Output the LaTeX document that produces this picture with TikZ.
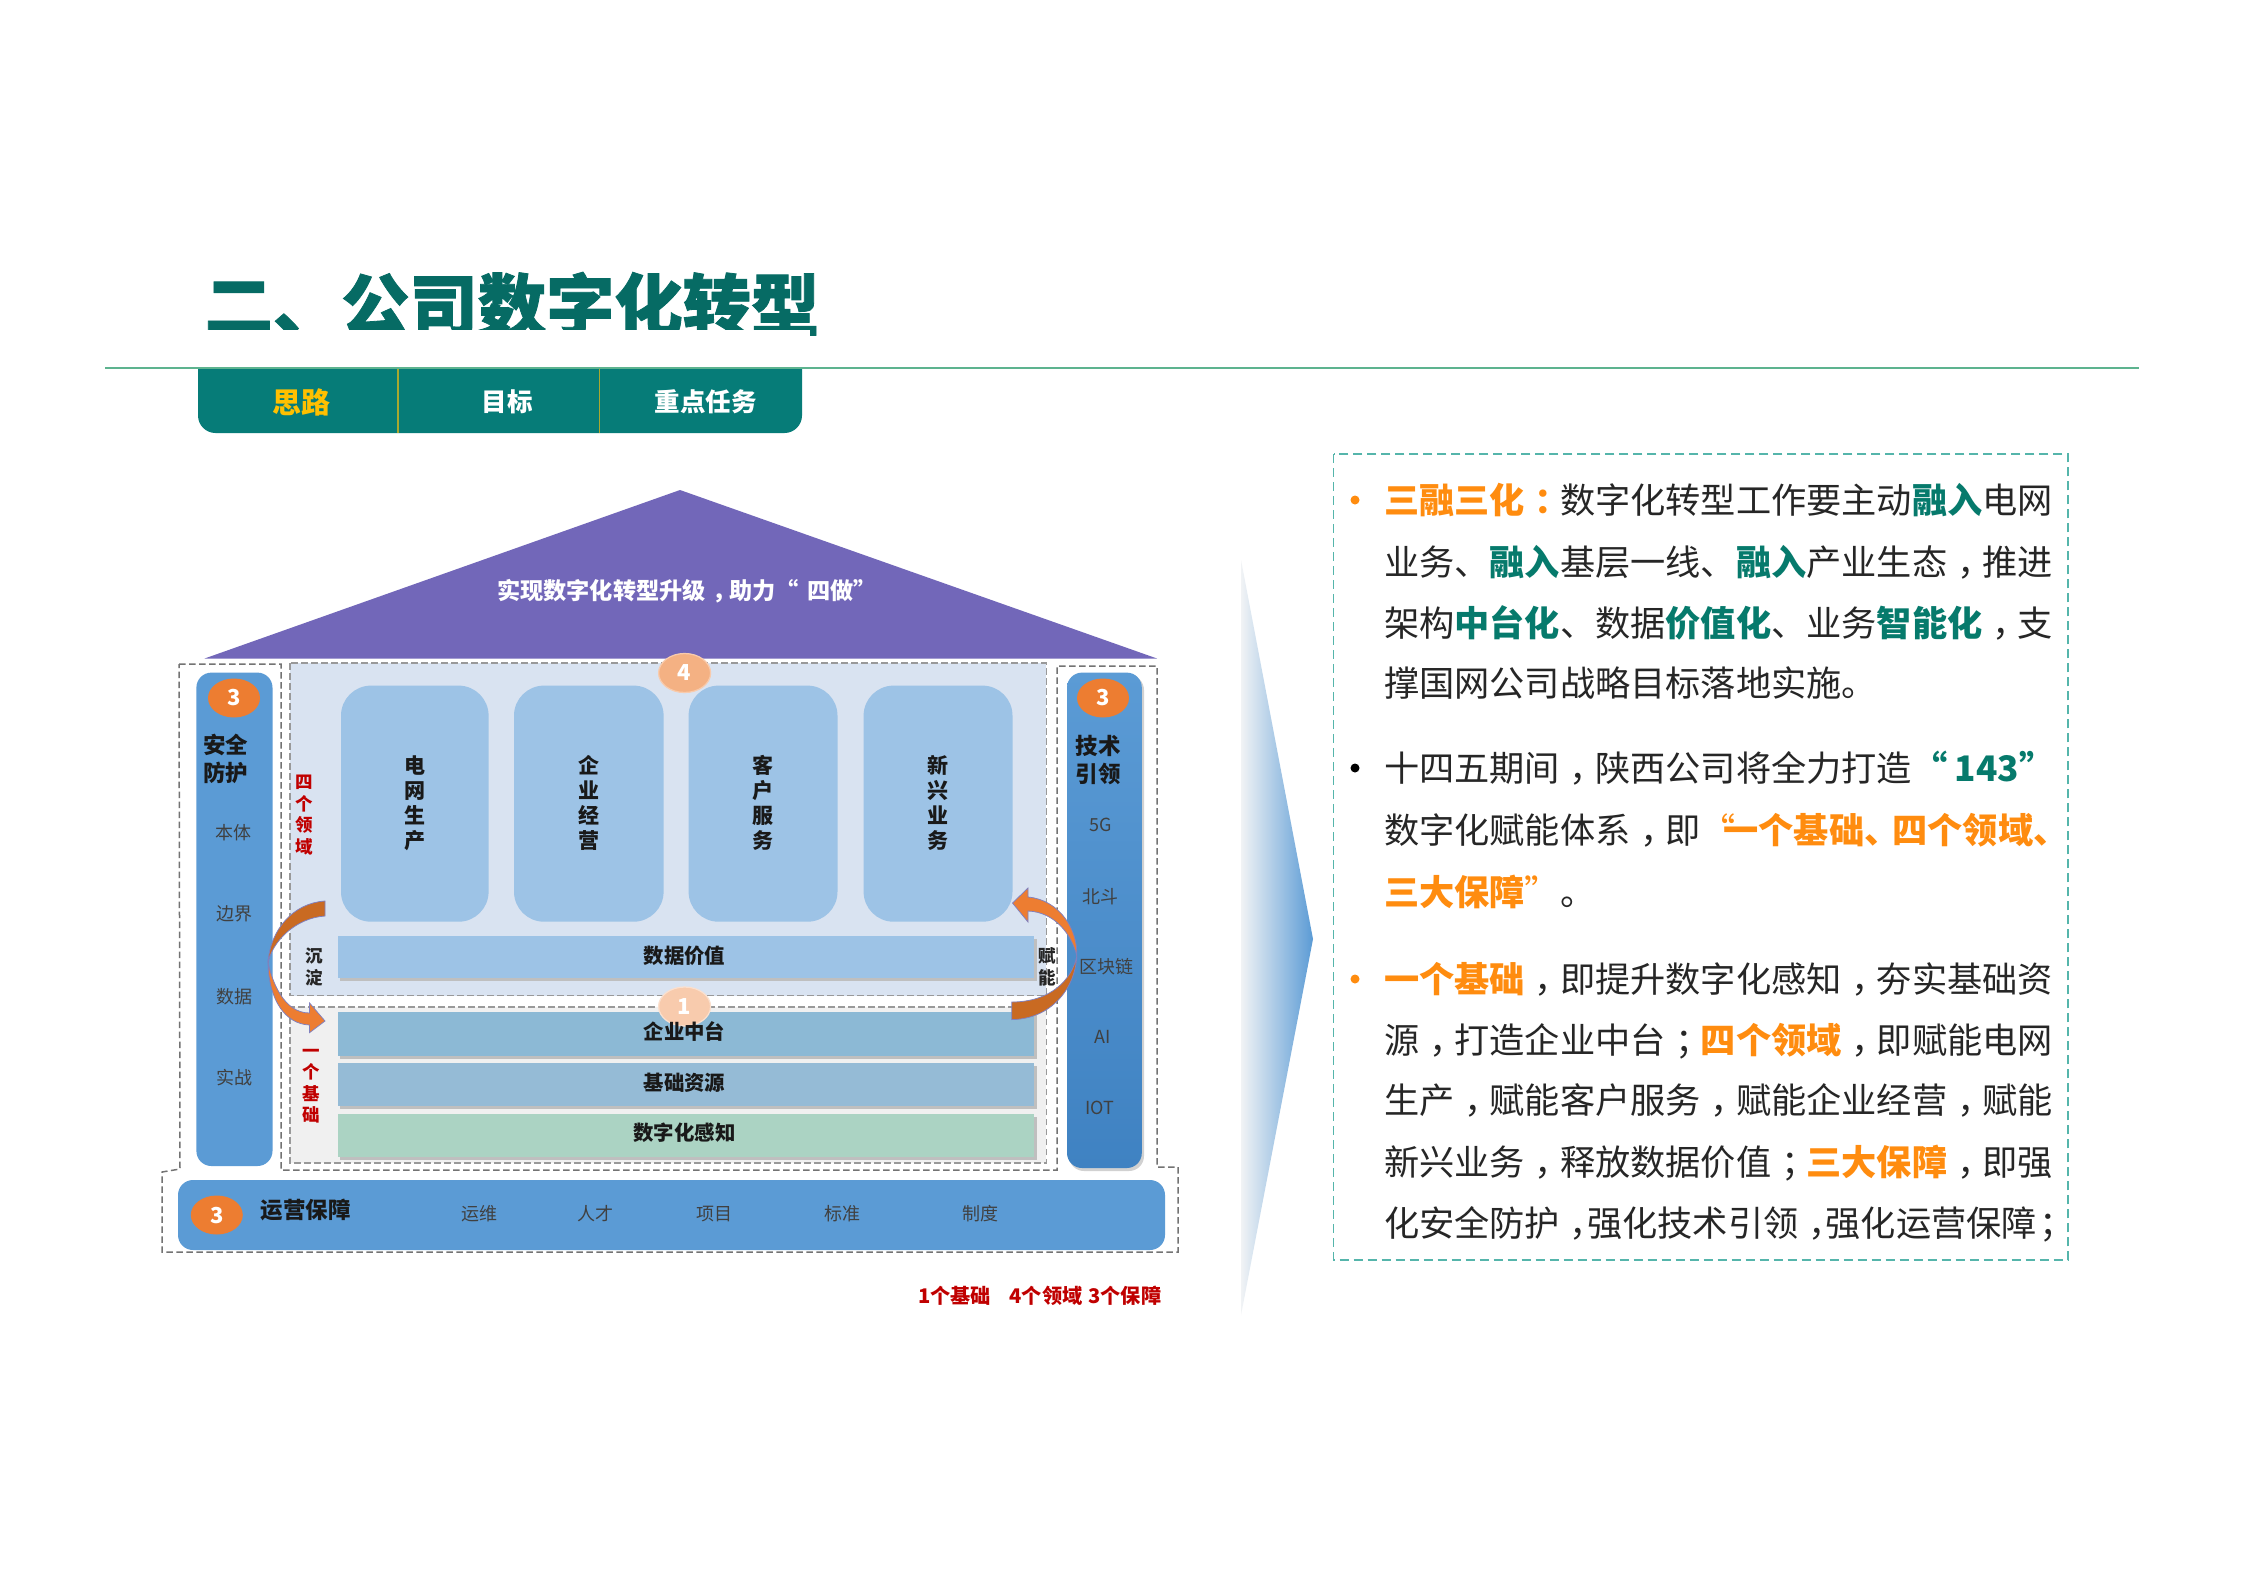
\documentclass[tikz,border=0pt]{standalone}
\usepackage{fontspec}
\setmainfont{Noto Sans CJK SC}
\newfontfamily\heavyfont[BoldFeatures={FakeBold=1.2}]{Noto Sans CJK SC}
\usetikzlibrary{shapes.geometric,calc}
\newcommand\fsl[2]{\fontsize{\the\dimexpr#1pt*2/5\relax}{\the\dimexpr#2pt*2/5\relax}\selectfont}
\newcommand\FC{\hspace{.28em}\char"FF0C\relax\hspace{-.28em}}
\newcommand\FS{\hspace{.28em}\char"FF1B\relax\hspace{-.28em}}
\newcommand\FN{\hspace{.28em}\char"FF1A\relax\hspace{-.28em}}
\definecolor{titleteal}{HTML}{066B64}
\definecolor{tabteal}{HTML}{067C78}
\definecolor{rulegreen}{HTML}{5DB38F}
\definecolor{tabgold}{HTML}{FFC000}
\definecolor{divgold}{HTML}{A8A830}
\definecolor{roofpurple}{HTML}{7267B9}
\definecolor{pillarblue}{HTML}{5B9BD5}
\definecolor{pillardark}{HTML}{3F82C2}
\definecolor{paleblue}{HTML}{D9E3F1}
\definecolor{blockblue}{HTML}{9DC3E6}
\definecolor{barone}{HTML}{8CB9D5}
\definecolor{bartwo}{HTML}{95BBD6}
\definecolor{barthree}{HTML}{ABD3C3}
\definecolor{ovalorange}{HTML}{ED7D31}
\definecolor{ovalmid}{HTML}{F4B183}
\definecolor{ovallight}{HTML}{F8CBAD}
\definecolor{arrowdark}{HTML}{C96A22}
\definecolor{redlabel}{HTML}{C00000}
\definecolor{boxteal}{HTML}{55B5AB}
\definecolor{txtorange}{HTML}{FF8C0F}
\definecolor{txtteal}{HTML}{067A6C}
\definecolor{txtdark}{HTML}{262626}
\definecolor{fadea}{HTML}{5B9BD5}
\definecolor{fadec}{HTML}{F1F3F5}
\begin{document}
\begin{tikzpicture}[x=0.4pt,y=-0.4pt,
  plain/.style={inner sep=0pt,outer sep=0pt},
  tabtext/.style={plain,font=\fsl{25.5}{30}\bfseries,text=white},
  pillarhead/.style={plain,align=center,font=\fsl{22.5}{28}\bfseries,text=black!90},
  pillaritem/.style={plain,font=\fsl{18}{22},text=black!75},
  blocktext/.style={plain,align=center,font=\fsl{21}{25}\bfseries,text=black!90},
  bartext/.style={plain,font=\fsl{20.4}{24}\bfseries,text=black!90},
  vertsmall/.style={plain,align=center,font=\fsl{17.5}{21.5}\bfseries},
  oval/.style={ellipse,minimum width=52*0.4pt,minimum height=39*0.4pt,inner sep=0pt,text=white,font=\fsl{22}{24}\bfseries},
  dashbox/.style={draw=black!55,line width=0.6pt,dash pattern=on 2.6pt off 1.4pt},
  bulletline/.style={plain,anchor=base west,font=\fsl{35.2}{40},text=txtdark},
  barshadow/.style={fill=black!25}
]
\newcommand\OR[1]{\textcolor{txtorange}{\bfseries #1}}
\newcommand\TE[1]{\textcolor{txtteal}{\bfseries #1}}
\useasboundingbox (0,0) rectangle (2245,1587);
\fill[white] (0,0) rectangle (2245,1587);

% title and tabs
\node[plain,text=titleteal,font=\heavyfont\fsl{68.3}{70}\bfseries] (title) at (512,305) {二、公司数字化转型};
\fill[tabteal,rounded corners=7pt] (198,340) rectangle (802,433);
\fill[white] (190,330) rectangle (810,367);
\draw[rulegreen,line width=1.1pt] (105,368) -- (2139,368);
\draw[divgold,line width=0.5pt] (398,369) -- (398,433) (599.5,369) -- (599.5,433);
\node[tabtext,text=tabgold,font=\fsl{29}{32}\bfseries] (tab1) at (301.5,402) {思路};
\node[tabtext] (tab2) at (507,402) {目标};
\node[tabtext] (tab3) at (705.6,402) {重点任务};

% roof
\fill[roofpurple] (680,490) -- (1157,658.5) -- (204.6,658.5) -- cycle;
\node[plain,anchor=west,text=white,font=\fsl{23.2}{26}\bfseries] (rooftext) at (497,591) {实现数字化转型升级\FC 助力“\hspace{3.5pt}四做”};

% outer dashed outline
\draw[dashbox,fill=white] (179,664) -- (281,664) -- (281,1170) -- (1057,1170) -- (1057,666) -- (1157,666) -- (1157,1167) -- (1178,1167) -- (1178,1252) -- (162,1252) -- (162,1172) -- (180,1169) -- cycle;

% middle panels
\draw[dashbox,fill=paleblue,draw=black!40] (290,663) rectangle (1046.4,995.6);
\draw[dashbox,fill=black!6,draw=black!40] (290,1007) rectangle (1046.4,1163);

% pillars
\fill[pillarblue,rounded corners=6pt] (196.4,672.6) rectangle (272.5,1166);
\fill[black!18,rounded corners=6pt] (1069,675) rectangle (1144,1171);
\shade[top color=pillarblue,bottom color=pillardark,rounded corners=6pt] (1067,672.6) rectangle (1141.8,1168);
\fill[pillarblue,rounded corners=6pt] (178,1180) rectangle (1165,1250);

% four blocks
\foreach \xa/\xb in {341/488.6,514/663.6,688.6/837.5,863.6/1012.5}
  \fill[blockblue,rounded corners=12pt] (\xa,685.6) rectangle (\xb,921.7);

% bars
\foreach \ya/\yb/\col in {935.6/978/blockblue,1012/1055.6/barone,1063/1105.6/bartwo,1114/1156.5/barthree}{
  \fill[barshadow] (340,\ya+3) rectangle (1037,\yb+3);
  \fill[\col] (337.5,\ya) rectangle (1034,\yb);
}

% curved arrows
\filldraw[arrowdark,draw=black!50!blue!50,line width=0.3pt] (325,901) .. controls (293,903) and (270,930) .. (268,963) .. controls (272,942) and (295,918) .. (325,916) -- cycle;
\filldraw[ovalorange,draw=black!50!blue!50,line width=0.3pt] (268,963) .. controls (272,980) and (283,1013) .. (309.6,1013) -- (309.6,1003) -- (325,1021) -- (309.6,1032.6) -- (309.6,1025) .. controls (285,1024) and (269,1000) .. (268,963) -- cycle;
\filldraw[arrowdark,draw=black!50!blue!50,line width=0.3pt] (1011.8,1019.6) .. controls (1050,1019) and (1075,990) .. (1076.8,956) .. controls (1072,980) and (1050,1002) .. (1011.8,1002) -- cycle;
\filldraw[ovalorange,draw=black!50!blue!50,line width=0.3pt] (1076.8,956) .. controls (1072,935) and (1055,912) .. (1028,911) -- (1028,922) -- (1012.5,903) -- (1028,888) -- (1028,897) .. controls (1060,900) and (1078,930) .. (1076.8,956) -- cycle;

% ovals
\node[oval,fill=ovalorange] (ovalL) at (234,698) {3};
\node[oval,fill=ovalorange] (ovalR) at (1103,698) {3};
\node[oval,fill=ovalorange] (ovalB) at (216.8,1215) {3};
\node[oval,fill=ovalmid,draw=ovallight,line width=0.5pt] (ovalF) at (684.6,673) {4};
\node[oval,fill=ovallight,draw=ovallight!60!white,line width=0.5pt] (ovalO) at (684.6,1006.5) {1};

% left pillar text
\node[pillarhead] (safe) at (225.7,759) {安全\\防护};
\node[pillaritem] (l1) at (233,832.6) {本体};
\node[pillaritem] (l2) at (234,914) {边界};
\node[pillaritem] (l3) at (234,996.5) {数据};
\node[pillaritem] (l4) at (234,1078) {实战};

% right pillar text
\node[pillarhead] (tech) at (1098,760.5) {技术\\引领};
\node[pillaritem] (r1) at (1101,825) {5G};
\node[pillaritem] (r2) at (1100,896.5) {北斗};
\node[pillaritem] (r3) at (1106.4,967) {区块链};
\node[pillaritem] (r4) at (1103,1037) {AI};
\node[pillaritem] (r5) at (1100,1108) {IOT};

% block text
\node[blocktext] (b1) at (415,803) {电\\网\\生\\产};
\node[blocktext] (b2) at (589,803) {企\\业\\经\\营};
\node[blocktext] (b3) at (763,803) {客\\户\\服\\务};
\node[blocktext] (b4) at (937.5,803) {新\\兴\\业\\务};

% bar text
\node[bartext] (v1) at (684.5,955.5) {数据价值};
\node[bartext] (v2) at (684.5,1031) {企业中台};
\node[bartext] (v3) at (684.5,1082.6) {基础资源};
\node[bartext] (v4) at (684.5,1132.7) {数字化感知};

% side labels
\node[vertsmall,text=redlabel] (four) at (304,815) {四\\个\\领\\域};
\node[vertsmall,text=redlabel] (one) at (311.4,1086) {一\\个\\基\\础};
\node[vertsmall,text=black!85] (sink) at (314,967) {沉\\淀};
\node[vertsmall,text=black!85] (enable) at (1047,967) {赋\\能};

% bottom bar text
\node[pillarhead] (ops) at (305.6,1210) {运营保障};
\node[pillaritem] (o1) at (479,1214) {运维};
\node[pillaritem] (o2) at (595.6,1214) {人才};
\node[pillaritem] (o3) at (714.7,1214) {项目};
\node[pillaritem] (o4) at (842,1214) {标准};
\node[pillaritem] (o5) at (980,1214) {制度};
\node[plain,anchor=west,text=redlabel,font=\fsl{20.2}{24}\bfseries] (legend) at (918,1296) {1个基础\hspace{7.5pt}4个领域\hspace{2.3pt}3个保障};

% big chevron
\shade[left color=fadec,right color=fadea] (1241,560) -- (1313,939) -- (1241,1315) -- cycle;

% text panel
\draw[boxteal,line width=0.7pt,dash pattern=on 3.6pt off 2pt] (1333.5,454) rectangle (2068,1260);
\fill[txtorange] (1355,500) circle (4.5);
\fill[black] (1355,768) circle (4.5);
\fill[txtorange] (1355,979) circle (4.5);

\node[bulletline] (t1) at (1384,513) {\OR{三融三化\FN}数字化转型工作要主动\TE{融入}电网};
\node[bulletline] (t2) at (1384,575) {业务、\TE{融入}基层一线、\TE{融入}产业生态\FC 推进};
\node[bulletline] (t3) at (1384,636) {架构\TE{中台化}、数据\TE{价值化}、业务\TE{智能化}\FC 支};
\node[bulletline] (t4) at (1384,696) {撑国网公司战略目标落地实施。};
\node[bulletline] (t5) at (1384,781) {十四五期间\FC 陕西公司将全力打造\TE{“\hspace{3pt}143”}};
\node[bulletline] (t6) at (1384,843) {数字化赋能体系\FC 即\textcolor{txtorange}{“}\hspace{-5pt}\OR{一个基础、\hspace{-2.8pt}四个领域、}};
\node[bulletline] (t7) at (1384,905) {\OR{三大保障}\textcolor{txtorange}{”}。};
\node[bulletline] (t8) at (1384,992) {\OR{一个基础}\FC 即提升数字化感知\FC 夯实基础资};
\node[bulletline] (t9) at (1384,1053) {源\FC 打造企业中台\FS\OR{四个领域}\FC 即赋能电网};
\node[bulletline] (t10) at (1384,1113) {生产\FC 赋能客户服务\FC 赋能企业经营\FC 赋能};
\node[bulletline] (t11) at (1384,1175) {新兴业务\FC 释放数据价值\FS\OR{三大保障}\FC 即强};
\node[bulletline] (t12) at (1384,1236) {化安全防护\FC\hspace{-3.2pt}强化技术引领\FC\hspace{-3.2pt}强化运营保障\hspace{-2.8pt}\FS};
\end{tikzpicture}
\end{document}
